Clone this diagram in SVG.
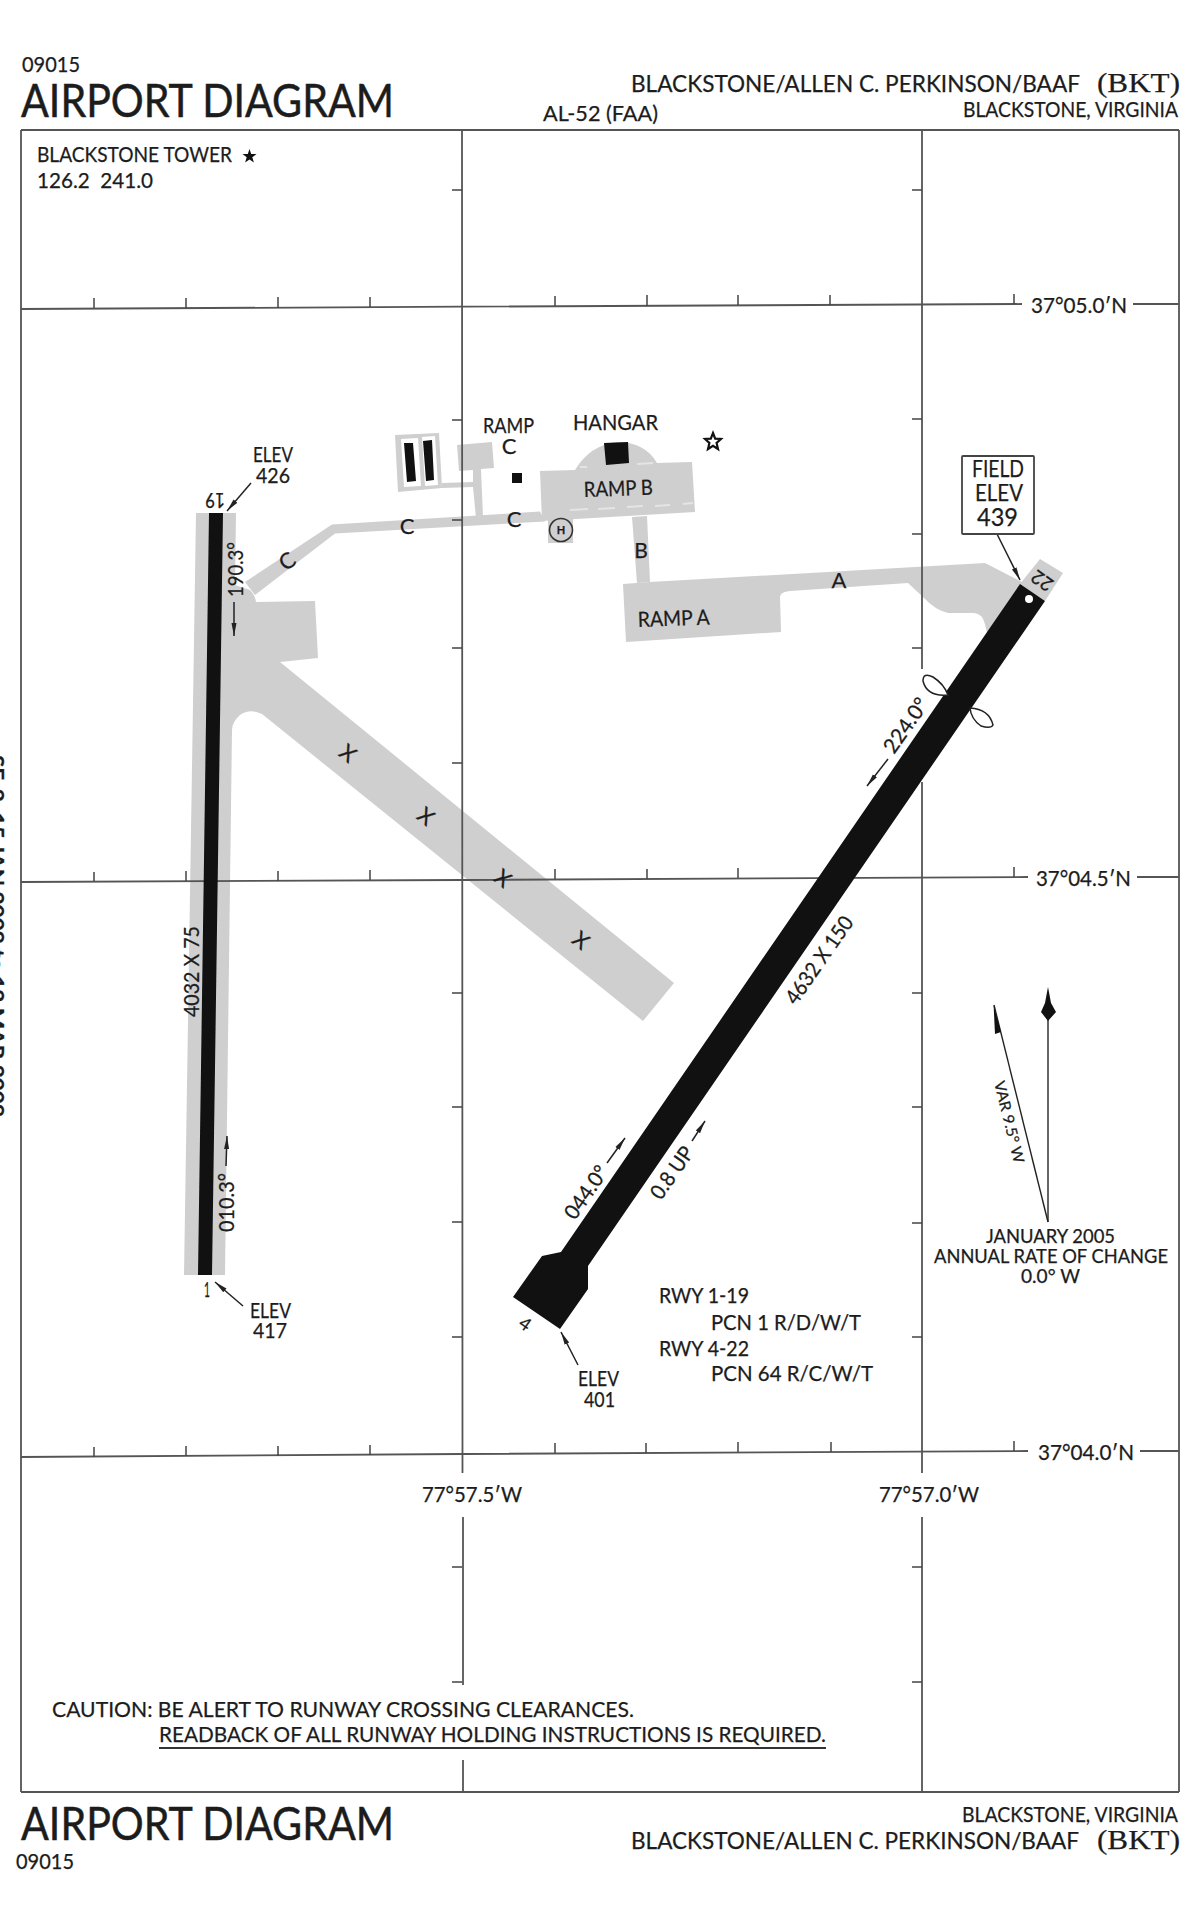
<svg xmlns="http://www.w3.org/2000/svg" width="1200" height="1922" viewBox="0 0 1200 1922">
<defs>
<style>
text{font-family:"Lato","Open Sans","Liberation Sans",sans-serif;fill:#1c1c1c;font-size:21px;stroke:#1c1c1c;stroke-width:.25}
.c{text-anchor:middle}
.big{font-size:46px;stroke-width:.5}
.ser{font-family:"Liberation Serif",serif;font-size:28px}
.m{font-size:23px}
.s{font-size:19px}
.pave{fill:#cfcfcf}
.blk{fill:#111}
.grid{stroke:#555;stroke-width:1.8;fill:none}
.tick{stroke:#444;stroke-width:1.5;fill:none}
.ldr{stroke:#222;stroke-width:1.5;fill:none;marker-end:url(#ah)}
.dash{stroke:#e4e4e4;stroke-width:2;fill:none}
</style>
<marker id="ah" markerUnits="userSpaceOnUse" markerWidth="14" markerHeight="8" refX="13" refY="4" orient="auto"><path d="M0,1.5L13,4L0,6.5Z" fill="#222"/></marker>
</defs>
<rect width="1200" height="1922" fill="#fff"/>

<g id="closed-runway-apron"><path class="pave" d="M196,513L236,513L235,585L250,590Q255,595 256,602L315,601L318,658L280,662L674,983L643,1021L262,714Q250,708 240,715Q232,722 232,730L225,1275L184,1275Z"/></g>
<g id="taxiway-c"><path class="pave" d="M245,582L332,524.5L540,511.5L545,521.5L335,533.5L255,595Z"/></g>
<g id="ramp-c"><path class="pave" d="M457,445L492,442L494,468L481,469L483,517L476,518L473,487L442,488L442,483L473,482L473,470L459,471Z"/></g>
<g id="parking"><path class="pave" d="M395,435L439,433L442,488L398,492Z"/><path d="M401,439L418,438L421,486L404,487ZM422,437L435,436L438,485L425,486Z" fill="#fff"/><path class="blk" d="M404,443L413,443L416,481L407,482ZM423,441L432,440L434,480L426,481Z"/></g>
<g id="ramp-b"><path class="pave" d="M575,470Q590,445 617,442Q645,442 657,463L692,462L695,512L542,521L540,471Z"/><path class="dash" d="M570,510L588,509M598,509L615,508M627,507L643,506M655,506L670,505M683,504L693,503M580,467L587,467M637,464L653,463"/></g>
<g id="taxiway-b"><path class="pave" d="M632,517L647,516L650,582L637,583Z"/></g>
<g id="ramp-a-taxiway-a"><path class="pave" d="M623,584L650,582L985,563L1022,582L1040,595L990,640L987,633Q985,622 982,617Q978,613 973,613L948,613Q935,610 923,597L908,583L790,591Q780,592 780,597L781,632L626,642Z"/></g>
<g id="helipad"><rect class="pave" x="548" y="519" width="25" height="24"/><circle cx="561" cy="530" r="11.5" fill="none" stroke="#333" stroke-width="1.6"/><text class="c" x="561" y="534" style="font-size:11px;font-weight:700">H</text></g>
<g id="end-22-stub"><path class="pave" d="M1040,559L1063,573L1045,601L1020,584Z"/></g>

<g id="grid">
<path class="grid" d="M21,130H1179M21,130V1792M1179,130V1792M21,1792H1179"/>
<path class="grid" d="M462,130L462.5,1473M463,1517V1685M463,1760V1792M922,130V669M922,782V1473M922,1517V1792"/>
<path class="grid" d="M21,309L462,306.7L1022,304M1133,304H1179"/>
<path class="grid" d="M21,882L462,880L1028,877M1137,877H1179"/>
<path class="grid" d="M21,1457L462,1454L1028,1451M1140,1451H1179"/>
<path class="tick" d="M452,190H462M452,420H462M452,520H462M452,648H462M452,763H462M452,993H462M452,1107H462M452,1222H462M452,1337H462M452,1567H462M452,1682H462"/>
<path class="tick" d="M912,190H922M912,419H922M912,534H922M912,648H922M912,993H922M912,1107H922M912,1223H922M912,1337H922M912,1567H922M912,1682H922"/>
<path class="tick" d="M94,308V298M186,308V298M278,308V297M370,307V297M555,306V296M647,306V295M738,305V295M830,305V295M1014,304V294"/>
<path class="tick" d="M94,881V872M186,881V871M278,881V871M370,880V870M555,879V869M647,879V869M738,878V868M830,878V868M1014,877V867"/>
<path class="tick" d="M94,1457V1447M186,1456V1446M278,1456V1446M370,1455V1445M555,1453V1443M646,1453V1443M738,1452V1442M831,1452V1442M1014,1451V1441"/>
</g>

<g id="runway-1-19"><path class="blk" d="M209,513L223,513L212,1275L198,1275Z"/></g>
<g id="runway-4-22"><path class="blk" d="M1020,584L1045,601L588,1266L588,1289L560,1329L513,1297L542,1256L561,1252Z"/><circle cx="1029" cy="599" r="4" fill="#fff"/><path d="M948,695Q927,697 923,681Q923,672 933,677Q944,684 948,695ZM970,708Q989,709 993,725Q991,729 981,726Q971,719 970,708Z" fill="#fff" stroke="#222" stroke-width="1.5"/></g>
<g id="buildings"><path class="blk" d="M604,443L628,442L629,463L606,465ZM512,473H522V483H512Z"/><path id="tower-star" class="blk" d="M249.5,149L251.2,154L256.5,154L252.3,157.3L253.9,162.5L249.5,159.4L245.1,162.5L246.7,157.3L242.5,154L247.8,154Z"/><path id="beacon" d="M713,433L715.2,438.6L721,439L716.6,443L718,449L713,445.8L708,449L709.4,443L705,439L710.8,438.6Z" fill="#fff" stroke="#111" stroke-width="2.2"/></g>

<g id="connectors">
<path class="ldr" d="M251,483L227,511"/>
<path class="ldr" d="M243,1306L215,1282"/>
<path class="ldr" d="M578,1365L561,1332"/>
<path class="ldr" d="M997,534L1020,580"/>
<path class="ldr" d="M234,602V636"/>
<path class="ldr" d="M226,1166L227,1136"/>
<path class="ldr" d="M888,759L867,786"/>
<path class="ldr" d="M607,1163L625,1138"/>
<path class="ldr" d="M692,1141L705,1121"/>
</g>

<g id="header">
<text x="22" y="72" textLength="58" lengthAdjust="spacingAndGlyphs">09015</text>
<text class="big" x="21" y="117" textLength="373" lengthAdjust="spacingAndGlyphs">AIRPORT DIAGRAM</text>
<text x="543" y="121" textLength="115" lengthAdjust="spacingAndGlyphs">AL-52 (FAA)</text>
<text style="font-size:24px" x="631" y="92" textLength="449" lengthAdjust="spacingAndGlyphs">BLACKSTONE/ALLEN C. PERKINSON/BAAF</text>
<text class="ser" x="1097" y="92" textLength="83" lengthAdjust="spacingAndGlyphs">(BKT)</text>
<text x="963" y="117" textLength="215" lengthAdjust="spacingAndGlyphs">BLACKSTONE, VIRGINIA</text>
<text x="37" y="162" textLength="195" lengthAdjust="spacingAndGlyphs">BLACKSTONE TOWER</text>
<text x="37" y="188" textLength="116" lengthAdjust="spacingAndGlyphs" xml:space="preserve">126.2  241.0</text>
<text transform="translate(-11,755) rotate(90)" style="font-size:20px;font-weight:700" textLength="362" lengthAdjust="spacingAndGlyphs">SE-2, 15 JAN 2009 to 12 MAR 2009</text>
</g>

<g id="coordinates">
<text x="1031" y="313" textLength="96" lengthAdjust="spacingAndGlyphs">37°05.0′N</text>
<text x="1036" y="886" textLength="95" lengthAdjust="spacingAndGlyphs">37°04.5′N</text>
<text x="1038" y="1460" textLength="96" lengthAdjust="spacingAndGlyphs">37°04.0′N</text>
<text x="422" y="1502" textLength="100" lengthAdjust="spacingAndGlyphs">77°57.5′W</text>
<text x="879" y="1502" textLength="100" lengthAdjust="spacingAndGlyphs">77°57.0′W</text>
</g>

<g id="labels-runways">
<text transform="translate(225,493) rotate(180)" textLength="20" lengthAdjust="spacingAndGlyphs">19</text>
<text x="204" y="1297" textLength="6" lengthAdjust="spacingAndGlyphs">1</text>
<text transform="translate(525,1324) rotate(35)" class="c" style="font-size:18px" y="6">4</text>
<text transform="translate(1042,581) rotate(215)" class="c" style="font-size:19px" y="7">22</text>
<text x="253" y="462" textLength="40" lengthAdjust="spacingAndGlyphs">ELEV</text>
<text x="256" y="483" textLength="34" lengthAdjust="spacingAndGlyphs">426</text>
<text x="250" y="1318" textLength="41" lengthAdjust="spacingAndGlyphs">ELEV</text>
<text x="253" y="1338" textLength="34" lengthAdjust="spacingAndGlyphs">417</text>
<text x="578" y="1386" textLength="41" lengthAdjust="spacingAndGlyphs">ELEV</text>
<text x="584" y="1407" textLength="31" lengthAdjust="spacingAndGlyphs">401</text>
<text transform="translate(243,597) rotate(-90)" textLength="55" lengthAdjust="spacingAndGlyphs">190.3°</text>
<text transform="translate(234,1232) rotate(-90)" textLength="59" lengthAdjust="spacingAndGlyphs">010.3°</text>
<text transform="translate(199,1017) rotate(-90)" textLength="91" lengthAdjust="spacingAndGlyphs">4032 X 75</text>
<text transform="translate(894,755) rotate(-55)" textLength="62" lengthAdjust="spacingAndGlyphs">224.0°</text>
<text transform="translate(796,1006) rotate(-55)" textLength="102" lengthAdjust="spacingAndGlyphs">4632 X 150</text>
<text transform="translate(575,1221) rotate(-55)" textLength="60" lengthAdjust="spacingAndGlyphs">044.0°</text>
<text transform="translate(661,1201) rotate(-55)" textLength="59" lengthAdjust="spacingAndGlyphs">0.8 UP</text>
<text class="c" transform="translate(348,753) rotate(38)" y="8" style="font-size:22px">X</text>
<text class="c" transform="translate(426,816) rotate(38)" y="8" style="font-size:22px">X</text>
<text class="c" transform="translate(503,878) rotate(38)" y="8" style="font-size:22px">X</text>
<text class="c" transform="translate(581,940) rotate(38)" y="8" style="font-size:22px">X</text>
</g>

<g id="labels-taxiways">
<text x="483" y="433" textLength="51" lengthAdjust="spacingAndGlyphs">RAMP</text>
<text class="c" x="509" y="454" style="font-size:22px">C</text>
<text x="573" y="430" textLength="85" lengthAdjust="spacingAndGlyphs">HANGAR</text>
<text transform="translate(584,497) rotate(-2)" textLength="69" lengthAdjust="spacingAndGlyphs">RAMP B</text>
<text transform="translate(638,627) rotate(-2)" textLength="72" lengthAdjust="spacingAndGlyphs">RAMP A</text>
<text class="c" x="839" y="588" style="font-size:22px">A</text>
<text class="c" x="641" y="558" style="font-size:21px">B</text>
<text class="c" x="407" y="534" style="font-size:22px">C</text>
<text class="c" x="514" y="527" style="font-size:22px">C</text>
<text class="c" transform="translate(287,561) rotate(-35)" y="8" style="font-size:22px">C</text>
</g>

<g id="field-elev"><rect x="962" y="456" width="72" height="78" rx="1" fill="#fff" stroke="#444" stroke-width="1.8"/>
<text class="m" x="972" y="477" textLength="52" lengthAdjust="spacingAndGlyphs">FIELD</text>
<text class="m" x="975" y="501" textLength="48" lengthAdjust="spacingAndGlyphs">ELEV</text>
<text style="font-size:25px" x="977" y="526" textLength="41" lengthAdjust="spacingAndGlyphs">439</text></g>

<g id="north-arrows">
<path d="M1048,1222V1020" stroke="#666" stroke-width="2" fill="none"/>
<path class="blk" d="M1048,987L1051,1003L1056,1012L1048,1021L1041,1012L1045,1003Z"/>
<path d="M1048,1222L994,1005" stroke="#222" stroke-width="1.4" fill="none"/>
<path class="blk" d="M993.6,1005L995,1034L1001,1032Z"/>
<text class="c" transform="translate(1009,1122) rotate(76)" y="5" style="font-size:15px" textLength="84" lengthAdjust="spacingAndGlyphs">VAR 9.5° W</text>
<text class="s" x="986" y="1243" textLength="129" lengthAdjust="spacingAndGlyphs">JANUARY 2005</text>
<text class="s" x="934" y="1263" textLength="234" lengthAdjust="spacingAndGlyphs">ANNUAL RATE OF CHANGE</text>
<text class="s" x="1021" y="1283" textLength="59" lengthAdjust="spacingAndGlyphs">0.0° W</text>
</g>

<g id="pcn">
<text x="659" y="1303" textLength="90" lengthAdjust="spacingAndGlyphs">RWY 1-19</text>
<text x="711" y="1330" textLength="150" lengthAdjust="spacingAndGlyphs">PCN 1 R/D/W/T</text>
<text x="659" y="1356" textLength="90" lengthAdjust="spacingAndGlyphs">RWY 4-22</text>
<text x="711" y="1381" textLength="162" lengthAdjust="spacingAndGlyphs">PCN 64 R/C/W/T</text>
</g>

<g id="caution">
<text x="52" y="1717" textLength="582" lengthAdjust="spacingAndGlyphs" style="font-size:22px">CAUTION: BE ALERT TO RUNWAY CROSSING CLEARANCES.</text>
<text x="159" y="1742" textLength="667" lengthAdjust="spacingAndGlyphs" style="font-size:22px">READBACK OF ALL RUNWAY HOLDING INSTRUCTIONS IS REQUIRED.</text>
<path d="M159,1748H826" stroke="#333" stroke-width="2" fill="none"/>
</g>

<g id="footer">
<text class="big" x="21" y="1840" textLength="373" lengthAdjust="spacingAndGlyphs">AIRPORT DIAGRAM</text>
<text x="16" y="1869" textLength="58" lengthAdjust="spacingAndGlyphs">09015</text>
<text x="962" y="1822" textLength="216" lengthAdjust="spacingAndGlyphs">BLACKSTONE, VIRGINIA</text>
<text style="font-size:24px" x="631" y="1849" textLength="448" lengthAdjust="spacingAndGlyphs">BLACKSTONE/ALLEN C. PERKINSON/BAAF</text>
<text class="ser" x="1097" y="1849" textLength="83" lengthAdjust="spacingAndGlyphs">(BKT)</text>
</g>
</svg>
